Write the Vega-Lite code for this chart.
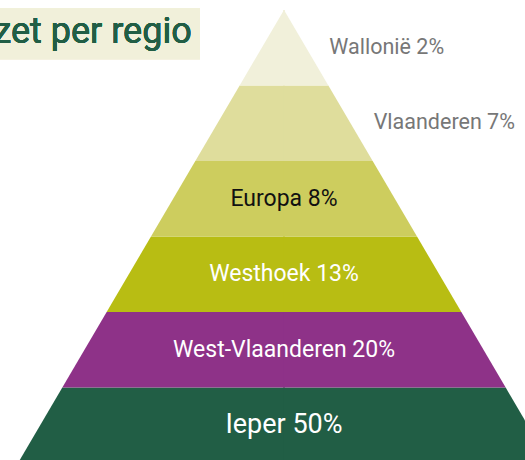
{
  "$schema": "https://vega.github.io/schema/vega-lite/v6.json",
  "width": 525,
  "height": 460,
  "autosize": {"type": "fit", "contains": "padding"},
  "padding": 0,
  "background": "white",
  "config": {"view": {"stroke": null}},
  "data": {
    "values": [
      {"regio": "Ieper", "pct": 50, "label": "Ieper 50%", "lo": 0, "hi": 1},
      {"regio": "West-Vlaanderen", "pct": 20, "label": "West-Vlaanderen 20%", "lo": 1, "hi": 2},
      {"regio": "Westhoek", "pct": 13, "label": "Westhoek 13%", "lo": 2, "hi": 3},
      {"regio": "Europa", "pct": 8, "label": "Europa 8%", "lo": 3, "hi": 4},
      {"regio": "Vlaanderen", "pct": 7, "label": "Vlaanderen 7%", "lo": 4, "hi": 5},
      {"regio": "Wallonië", "pct": 2, "label": "Wallonië 2%", "lo": 5, "hi": 6}
    ]
  },
  "resolve": {"scale": {"x": "independent"}},
  "layer": [
    {
      "layer": [
        {
          "transform": [{"fold": ["lo", "hi"], "as": ["k", "level"]}],
          "mark": {"type": "area", "orient": "horizontal", "clip": true},
          "encoding": {
            "y": {"field": "level", "type": "quantitative", "axis": null, "scale": {"domain": [0.04, 6.132], "nice": false, "zero": false}},
            "x": {"field": "level", "type": "quantitative", "axis": null, "stack": null, "scale": {"domain": [-0.406, 11.437], "nice": false, "zero": false}},
            "x2": {"datum": 6.02},
            "color": {"field": "regio", "type": "nominal", "legend": null,
              "scale": {"domain": ["Ieper", "West-Vlaanderen", "Westhoek", "Europa", "Vlaanderen", "Wallonië"],
                        "range": ["#215e45", "#8e3288", "#b8bd13", "#cdcd5e", "#dfdd9c", "#f1f0da"]}}
          }
        },
        {
          "mark": {"type": "rect", "color": "#f1f0da", "clip": true},
          "encoding": {
            "x": {"datum": -1, "type": "quantitative", "axis": null, "scale": {"domain": [-0.406, 11.437], "nice": false, "zero": false}},
            "x2": {"datum": 4.105},
            "y": {"datum": 6.023, "type": "quantitative", "axis": null, "scale": {"domain": [0.04, 6.132], "nice": false, "zero": false}},
            "y2": {"datum": 5.347}
          }
        },
        {
          "mark": {"type": "text", "text": "Omzet per regio", "align": "right", "baseline": "alphabetic", "font": "Roboto", "fontSize": 36, "color": "#215e45", "clip": true},
          "encoding": {
            "x": {"datum": 3.918, "type": "quantitative", "axis": null, "scale": {"domain": [-0.406, 11.437], "nice": false, "zero": false}},
            "y": {"datum": 5.559, "type": "quantitative", "axis": null, "scale": {"domain": [0.04, 6.132], "nice": false, "zero": false}}
          }
        }
      ]
    },
    {
      "layer": [
        {
          "transform": [{"fold": ["lo", "hi"], "as": ["k", "level"]}],
          "mark": {"type": "area", "orient": "horizontal", "clip": true},
          "encoding": {
            "y": {"field": "level", "type": "quantitative", "axis": null, "scale": {"domain": [0.04, 6.132], "nice": false, "zero": false}},
            "x": {"field": "level", "type": "quantitative", "axis": null, "stack": null, "scale": {"domain": [0.564, 12.407], "reverse": true, "nice": false, "zero": false}},
            "x2": {"datum": 6.02},
            "color": {"field": "regio", "type": "nominal", "legend": null,
              "scale": {"domain": ["Ieper", "West-Vlaanderen", "Westhoek", "Europa", "Vlaanderen", "Wallonië"],
                        "range": ["#215e45", "#8e3288", "#b8bd13", "#cdcd5e", "#dfdd9c", "#f1f0da"]}}
          }
        },
        {
          "transform": [{"filter": {"field": "regio", "oneOf": ["Ieper", "West-Vlaanderen", "Westhoek", "Europa"]}}],
          "mark": {"type": "text", "align": "center", "baseline": "middle", "font": "Roboto", "dy": -37.75, "clip": true},
          "encoding": {
            "x": {"datum": 6, "type": "quantitative", "axis": null, "scale": {"domain": [0.564, 12.407], "reverse": true, "nice": false, "zero": false}},
            "y": {"field": "lo", "type": "quantitative", "axis": null, "scale": {"domain": [0.04, 6.132], "nice": false, "zero": false}},
            "text": {"field": "label"},
            "color": {"condition": {"test": "datum.regio === 'Europa'", "value": "#111111"}, "value": "#ffffff"},
            "size": {"condition": {"test": "datum.regio === 'Ieper'", "value": 27}, "value": 23}
          }
        },
        {
          "transform": [{"filter": {"field": "regio", "oneOf": ["Vlaanderen", "Wallonië"]}}],
          "mark": {"type": "text", "align": "left", "baseline": "middle", "font": "Roboto", "fontSize": 21.5, "color": "#777777", "dy": -37.75, "dx": 1, "clip": true},
          "encoding": {
            "x": {"field": "lo", "type": "quantitative", "axis": null, "scale": {"domain": [0.564, 12.407], "reverse": true, "nice": false, "zero": false}},
            "y": {"field": "lo", "type": "quantitative", "axis": null, "scale": {"domain": [0.04, 6.132], "nice": false, "zero": false}},
            "text": {"field": "label"}
          }
        }
      ]
    }
  ]
}
